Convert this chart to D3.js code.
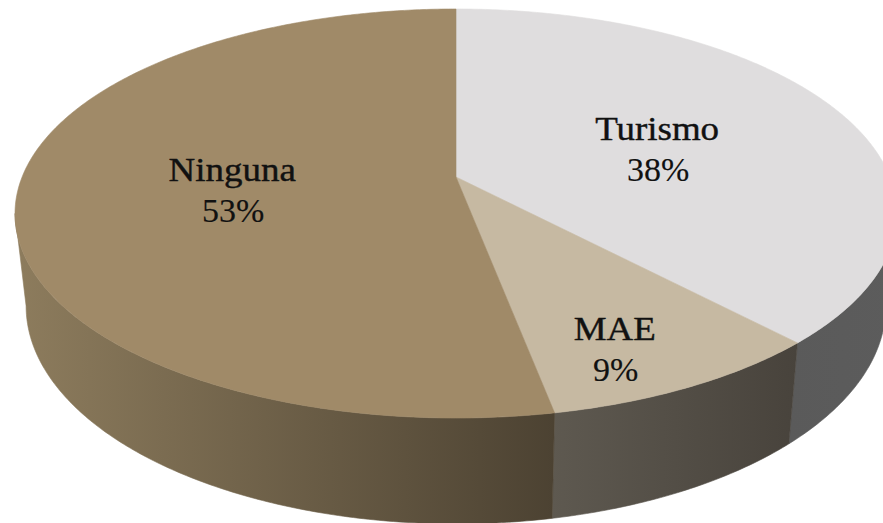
<!DOCTYPE html>
<html lang="es">
<head>
<meta charset="UTF-8">
<title>Pie 3D</title>
<script src="https://d3js.org/d3.v7.min.js"></script>
<style>
    body { margin: 0; background: #fff; }
    svg { display: block; }
    .lbl { font-family: "Liberation Serif", "Times New Roman", serif; fill: #111; }
    .name { font-size: 33px; stroke: #111; stroke-width: 0.4px; }
    .pct { font-size: 33px; stroke: #111; stroke-width: 0.15px; }
</style>
</head>
<body>
<script>
    const categories = ["Turismo", "MAE", "Ninguna"];
    const values = [38, 9, 53];
    const topColors = ["#DFDDDE", "#C6B9A2", "#A08A68"];
    const sideColors = [["#5A5A5A", "#5C5C5C"], ["#5E5950", "#48433C"], ["#8D7C5D", "#4C4232"]];

    const width = 883, height = 523;

    // perspective of the disc: top face and bottom face
    const k = 0.1785;
    const topFace = { x0: 456, y0: 177, a: 433.9, b: 198 };
    const botFace = { x0: 456, y0: 267, a: 423, b: 211 };

    function proj(face, phi, r) {
        const u = r * Math.sin(phi), v = -r * Math.cos(phi);
        const den = 1 - k * v;
        return [face.x0 + face.a * u / den, face.y0 + face.b * v / den];
    }

    function arcPoints(face, a0, a1) {
        const n = Math.max(2, Math.ceil(Math.abs(a1 - a0) / 0.01));
        return d3.range(n + 1).map(i => proj(face, a0 + (a1 - a0) * i / n, 1));
    }

    const total = d3.sum(values);
    const data = categories.map((c, i) => ({ name: c, value: values[i], i }));
    const arcs = d3.pie().sort(null).value(d => d.value)(data);

    const svg = d3.select("body").append("svg")
        .attr("width", width).attr("height", height);
    const defs = svg.append("defs");
    const line = d3.line();

    // visible part of the wall (front silhouette angles)
    const sil = Math.acos(-k);
    const frontA = sil, frontB = 2 * Math.PI - sil;

    arcs.forEach(d => {
        const a0 = Math.max(d.startAngle, frontA), a1 = Math.min(d.endAngle, frontB);
        if (a1 <= a0) return;
        const topPts = arcPoints(topFace, a0, a1);
        const botPts = arcPoints(botFace, a0, a1).reverse();
        const pts = topPts.concat(botPts);
        const xs = pts.map(p => p[0]);
        const gid = "side" + d.data.i;
        const g = defs.append("linearGradient").attr("id", gid)
            .attr("gradientUnits", "userSpaceOnUse")
            .attr("x1", d3.min(xs)).attr("x2", d3.max(xs)).attr("y1", 0).attr("y2", 0);
        g.append("stop").attr("offset", 0).attr("stop-color", sideColors[d.data.i][0]);
        g.append("stop").attr("offset", 1).attr("stop-color", sideColors[d.data.i][1]);
        svg.append("path")
            .attr("d", line(pts) + "Z")
            .attr("fill", `url(#${gid})`)
            .attr("stroke", `url(#${gid})`)
            .attr("stroke-width", 0.6);
    });

    arcs.forEach(d => {
        const pts = [proj(topFace, 0, 0)].concat(arcPoints(topFace, d.startAngle, d.endAngle));
        svg.append("path")
            .attr("d", line(pts) + "Z")
            .attr("fill", topColors[d.data.i])
            .attr("stroke", topColors[d.data.i])
            .attr("stroke-width", 0.6);
    });

    // labels
    const labelNudge = { Turismo: [-13, 2], MAE: [40, 57], Ninguna: [16, -6] };
    arcs.forEach(d => {
        const mid = (d.startAngle + d.endAngle) / 2;
        const p = proj(topFace, mid, 0.55);
        const n = labelNudge[d.data.name];
        const x = p[0] + n[0], y = p[1] + n[1];
        svg.append("text")
            .attr("class", "lbl name")
            .attr("text-anchor", "middle")
            .attr("transform", `translate(${x},${y}) scale(1.12,1)`)
            .text(d.data.name);
        svg.append("text")
            .attr("class", "lbl pct")
            .attr("text-anchor", "middle")
            .attr("transform", `translate(${x + 1},${y + 41}) scale(1.03,1)`)
            .text(Math.round(d.data.value / total * 100) + "%");
    });
</script>
</body>
</html>
